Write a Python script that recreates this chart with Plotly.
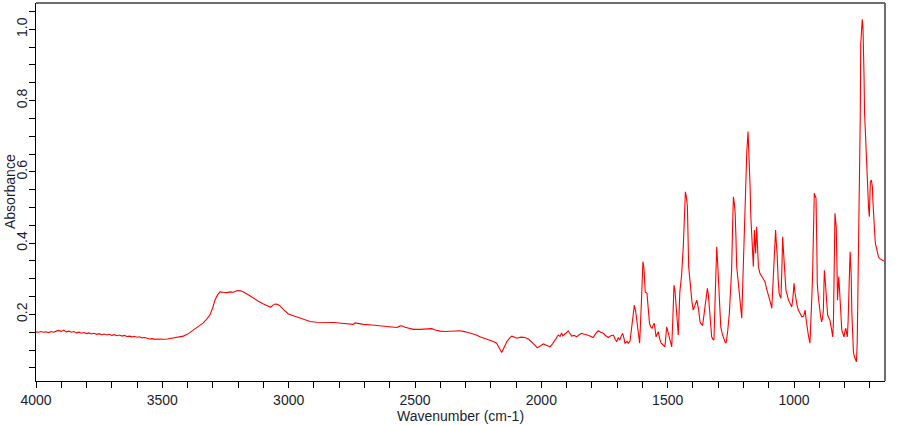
import plotly.graph_objects as go

# ---- data ----
wavenumber = [
    4000, 3990, 3980, 3970, 3960, 3950, 3940, 3930, 3920, 3910, 3900, 3890, 3880, 3870, 3860, 3850,
    3840, 3830, 3820, 3810, 3800, 3790, 3780, 3770, 3760, 3750, 3740, 3730, 3720, 3710, 3700, 3690,
    3680, 3670, 3660, 3650, 3640, 3630, 3620, 3610, 3600, 3590, 3580, 3570, 3560, 3550, 3540, 3530,
    3520, 3510, 3500, 3490, 3480, 3470, 3457,
    3440, 3417, 3397, 3377, 3358, 3338, 3325, 3312, 3300, 3292, 3282, 3272, 3260, 3245, 3230, 3219,
    3210, 3203, 3190, 3179, 3160, 3140, 3120, 3100, 3085, 3071, 3062, 3054, 3045, 3034, 3018, 3001,
    2985, 2968, 2955, 2942, 2930, 2915, 2890, 2870, 2850, 2820, 2790, 2757, 2745, 2737, 2725, 2704,
    2670, 2638, 2605, 2572, 2560, 2553, 2540, 2520, 2506, 2480, 2454, 2443, 2434, 2420, 2401, 2380,
    2361,
    2340, 2322, 2300, 2282, 2260, 2243, 2220, 2203, 2190, 2177, 2165, 2157, 2147, 2137, 2125, 2117,
    2105, 2098, 2080, 2065, 2050, 2038, 2025, 2016, 2005, 1992, 1980, 1966, 1955, 1945, 1933, 1926,
    1920, 1915, 1911, 1903, 1894, 1887, 1880, 1870, 1861, 1850, 1841, 1830, 1821, 1808, 1795, 1785,
    1775, 1765, 1755, 1745, 1735, 1725, 1715, 1708, 1702, 1695, 1690, 1683, 1678, 1672, 1669, 1660,
    1656, 1649, 1643, 1638, 1632, 1627, 1622, 1616, 1611, 1604, 1598, 1594, 1589, 1582, 1577, 1572,
    1567, 1562, 1557, 1553, 1546, 1541, 1537, 1531, 1526, 1518, 1511, 1504, 1499, 1495, 1490, 1484,
    1479, 1475, 1471, 1468, 1463, 1458, 1452, 1445, 1438, 1433, 1430, 1426, 1422, 1417, 1409, 1404,
    1399, 1392, 1385, 1378, 1372, 1367, 1362, 1357, 1353, 1347, 1343, 1339, 1335, 1330, 1326, 1321,
    1317, 1312, 1306, 1302, 1298, 1294, 1290, 1284, 1277, 1273, 1269, 1263, 1256, 1251, 1247, 1243,
    1240, 1236, 1233, 1230, 1227, 1222, 1217, 1212, 1207, 1204, 1201, 1197, 1194, 1190, 1187, 1182,
    1178, 1174, 1171, 1168, 1165, 1161, 1157, 1155, 1152, 1148, 1145, 1141, 1135, 1128, 1122, 1115,
    1108, 1101, 1094, 1088, 1083, 1078, 1073, 1070, 1067, 1063, 1059, 1055, 1052, 1048, 1045, 1042,
    1039, 1035, 1032, 1027, 1022, 1015, 1009, 1004, 1000, 996, 993, 988, 983, 976, 969, 962,
    958, 956, 952, 949, 943, 937, 933, 930, 927, 924, 921, 920, 916, 913, 910, 908,
    904, 900, 895, 891, 887, 884, 882, 880, 877, 875, 871, 867, 862, 858, 852, 847,
    844, 842, 840, 838, 835, 833, 830, 828, 825, 823, 820, 817, 814, 811, 806, 802,
    798, 795, 792, 789, 786, 783, 780, 778, 776, 774, 771, 768, 765, 761, 757, 753,
    750, 748, 745, 741, 738, 736, 733, 730, 727, 725, 723, 721, 718, 716, 713, 710,
    707, 705, 702, 700, 698, 694, 690, 688, 685, 681, 678, 674, 670, 666, 662, 657,
    652, 648, 643,
]
absorbance = [
    0.151, 0.150, 0.152, 0.150, 0.151, 0.149, 0.152, 0.150, 0.153, 0.155, 0.152, 0.156, 0.151, 0.153, 0.150, 0.152,
    0.148, 0.150, 0.147, 0.149, 0.146, 0.148, 0.145, 0.147, 0.144, 0.146, 0.143, 0.145, 0.142, 0.144, 0.141, 0.143,
    0.140, 0.142, 0.139, 0.141, 0.138, 0.139, 0.137, 0.138, 0.136, 0.137, 0.134, 0.135, 0.133, 0.131, 0.132, 0.130,
    0.131, 0.130, 0.131, 0.130, 0.131, 0.132, 0.133,
    0.135, 0.139, 0.146, 0.156, 0.166, 0.176, 0.186, 0.198, 0.220, 0.240, 0.254, 0.263, 0.262, 0.261, 0.263, 0.262,
    0.265, 0.267, 0.266, 0.263, 0.255, 0.245, 0.237, 0.229, 0.224, 0.220, 0.226, 0.229, 0.228, 0.224, 0.212, 0.201,
    0.197, 0.193, 0.190, 0.186, 0.183, 0.180, 0.178, 0.178, 0.178, 0.177, 0.175, 0.173, 0.172, 0.176, 0.174, 0.172,
    0.170, 0.167, 0.165, 0.163, 0.167, 0.168, 0.164, 0.160, 0.158, 0.158, 0.158, 0.159, 0.160, 0.156, 0.153, 0.152,
    0.152,
    0.153, 0.154, 0.151, 0.148, 0.143, 0.137, 0.132, 0.128, 0.124, 0.119, 0.105, 0.093, 0.108, 0.123, 0.134, 0.139,
    0.136, 0.133, 0.136, 0.135, 0.130, 0.123, 0.113, 0.106, 0.112, 0.117, 0.113, 0.109, 0.118, 0.130, 0.142, 0.138,
    0.148, 0.140, 0.142, 0.147, 0.154, 0.145, 0.139, 0.141, 0.137, 0.143, 0.147, 0.144, 0.143, 0.139, 0.135, 0.146,
    0.154, 0.150, 0.147, 0.140, 0.135, 0.140, 0.142, 0.130, 0.123, 0.135, 0.128, 0.140, 0.147, 0.130, 0.119, 0.124,
    0.119, 0.125, 0.161, 0.195, 0.226, 0.210, 0.184, 0.140, 0.119, 0.235, 0.348, 0.330, 0.263, 0.259, 0.215, 0.175,
    0.165, 0.161, 0.170, 0.175, 0.137, 0.145, 0.151, 0.130, 0.119, 0.114, 0.109, 0.165, 0.150, 0.137, 0.120, 0.109,
    0.200, 0.282, 0.265, 0.235, 0.190, 0.142, 0.263, 0.310, 0.395, 0.480, 0.544, 0.530, 0.502, 0.334, 0.259, 0.235,
    0.212, 0.225, 0.240, 0.215, 0.179, 0.172, 0.170, 0.195, 0.221, 0.255, 0.273, 0.255, 0.221, 0.175, 0.137, 0.130,
    0.128, 0.250, 0.390, 0.340, 0.287, 0.220, 0.165, 0.145, 0.128, 0.122, 0.119, 0.150, 0.203, 0.260, 0.324, 0.450,
    0.530, 0.510, 0.484, 0.420, 0.334, 0.300, 0.259, 0.220, 0.189, 0.260, 0.343, 0.450, 0.544, 0.600, 0.656, 0.713,
    0.656, 0.560, 0.474, 0.420, 0.371, 0.334, 0.437, 0.400, 0.371, 0.446, 0.400, 0.334, 0.315, 0.306, 0.300, 0.292,
    0.270, 0.254, 0.235, 0.217, 0.287, 0.370, 0.437, 0.400, 0.371, 0.300, 0.259, 0.250, 0.245, 0.330, 0.418, 0.380,
    0.334, 0.295, 0.268, 0.255, 0.240, 0.230, 0.221, 0.250, 0.287, 0.260, 0.240, 0.225, 0.212, 0.200, 0.193, 0.195,
    0.208, 0.212, 0.185, 0.165, 0.140, 0.119, 0.170, 0.240, 0.300, 0.371, 0.500, 0.540, 0.530, 0.526, 0.400, 0.287,
    0.250, 0.221, 0.195, 0.179, 0.190, 0.212, 0.270, 0.324, 0.300, 0.277, 0.230, 0.198, 0.190, 0.184, 0.160, 0.137,
    0.180, 0.240, 0.380, 0.484, 0.460, 0.446, 0.330, 0.240, 0.280, 0.306, 0.270, 0.240, 0.190, 0.156, 0.145, 0.137,
    0.155, 0.161, 0.148, 0.137, 0.180, 0.231, 0.330, 0.376, 0.340, 0.315, 0.200, 0.109, 0.095, 0.081, 0.072, 0.067,
    0.120, 0.221, 0.330, 0.484, 0.750, 0.958, 0.990, 1.028, 1.000, 0.961, 0.870, 0.769, 0.710, 0.666, 0.620, 0.572,
    0.530, 0.498, 0.474, 0.530, 0.572, 0.577, 0.558, 0.520, 0.465, 0.430, 0.399, 0.385, 0.371, 0.362, 0.357, 0.354,
    0.352, 0.351, 0.350,
]

x_tickvals = [4000, 3500, 3000, 2500, 2000, 1500, 1000]
x_ticktext = ["4000", "3500", "3000", "2500", "2000", "1500", "1000"]
y_tickvals = [0.2, 0.4, 0.6, 0.8, 1.0]
y_ticktext = ["0.2", "0.4", "0.6", "0.8", "1.0"]

x_range = [4000, 640]
y_range = [0.013, 1.074]

font_family = "Liberation Sans, Arial, sans-serif"
text_color = "#1c1c30"

fig = go.Figure()
fig.add_trace(go.Scatter(
    x=wavenumber, y=absorbance, mode="lines",
    line=dict(color="#ff0000", width=1.1), hoverinfo="x+y", showlegend=False,
))

fig.update_layout(
    width=900, height=425,
    margin=dict(l=36, r=15, t=3, b=44),
    paper_bgcolor="white", plot_bgcolor="white",
    font=dict(family=font_family, size=14, color=text_color),
    xaxis=dict(
        range=x_range, showgrid=False, zeroline=False,
        showline=True, linecolor="black", linewidth=1,
        tickmode="array", tickvals=x_tickvals, ticktext=x_ticktext,
        ticks="outside", ticklen=6, tickcolor="black", tickwidth=1,
        minor=dict(dtick=100, tick0=0, ticks="outside", ticklen=6, tickcolor="black", showgrid=False),
        tickfont=dict(size=14, color=text_color),
    ),
    yaxis=dict(
        range=y_range, showgrid=False, zeroline=False,
        showline=True, linecolor="black", linewidth=1,
        tickmode="array", tickvals=y_tickvals, ticktext=y_ticktext,
        ticks="outside", ticklen=6, tickcolor="black", tickwidth=1,
        minor=dict(dtick=0.05, tick0=0, ticks="outside", ticklen=6, tickcolor="black", showgrid=False),
        tickangle=-90, ticklabelstandoff=-4,
        tickfont=dict(size=14, color=text_color),
    ),
    shapes=[
        dict(type="line", xref="paper", yref="paper", x0=0, x1=1, y0=1, y1=1,
             line=dict(color="#6e6e6e", width=2)),
        dict(type="line", xref="paper", yref="paper", x0=1, x1=1, y0=0, y1=1,
             line=dict(color="#6e6e6e", width=2)),
    ],
    annotations=[
        dict(text="Wavenumber (cm-1)", xref="paper", yref="paper", x=0.5, y=-0.0926,
             xanchor="center", yanchor="middle", showarrow=False,
             font=dict(size=14, color=text_color, family=font_family)),
        dict(text="Absorbance", xref="paper", yref="paper", x=-0.0306, y=0.5,
             xanchor="center", yanchor="middle", textangle=-90, showarrow=False,
             font=dict(size=14, color=text_color, family=font_family)),
    ],
)

fig.write_html("out.html")
